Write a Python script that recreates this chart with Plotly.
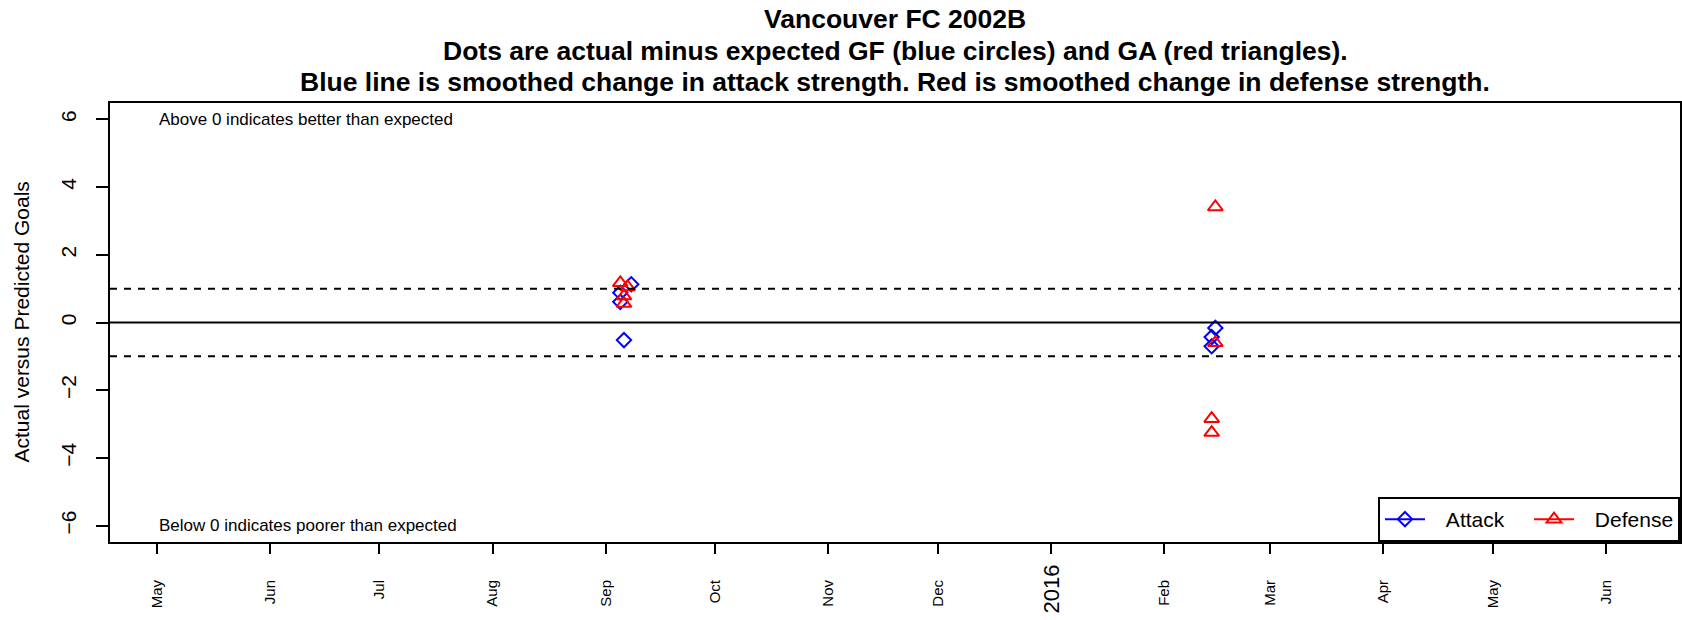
import plotly.graph_objects as go

# ---- data ----
attack_dates = ["2015-09-05", "2015-09-05", "2015-09-06", "2015-09-08",
                "2016-02-14", "2016-02-14", "2016-02-15"]
attack_vals = [0.61, 0.88, -0.52, 1.13, -0.43, -0.70, -0.16]

defense_dates = ["2015-09-05", "2015-09-06", "2015-09-06", "2015-09-07",
                 "2016-02-14", "2016-02-14", "2016-02-15", "2016-02-15"]
defense_vals = [1.17, 0.78, 0.56, 1.05, -2.84, -3.25, 3.41, -0.60]

tick_dates = ["2015-05-01", "2015-06-01", "2015-07-01", "2015-08-01", "2015-09-01",
              "2015-10-01", "2015-11-01", "2015-12-01", "2016-01-01", "2016-02-01",
              "2016-03-01", "2016-04-01", "2016-05-01", "2016-06-01"]
tick_labels = ["May", "Jun", "Jul", "Aug", "Sep", "Oct", "Nov", "Dec", "2016",
               "Feb", "Mar", "Apr", "May", "Jun"]
year_label = "2016"
y_ticks = [-6, -4, -2, 0, 2, 4, 6]

title_lines = ["Vancouver FC 2002B",
               "Dots are actual minus expected GF (blue circles) and GA (red triangles).",
               "Blue line is smoothed change in attack strength. Red is smoothed change in defense strength."]

FONT = "Liberation Sans, Arial, sans-serif"
BLUE = "#0000FF"
RED = "#FF0000"
GAP = "\u00a0\u00a0\u2009"

fig = go.Figure()

fig.add_trace(go.Scatter(x=attack_dates, y=attack_vals, mode="markers", showlegend=False,
                         marker=dict(symbol="diamond-open", size=11, color=BLUE,
                                     line=dict(width=2, color=BLUE))))
fig.add_trace(go.Scatter(x=defense_dates, y=defense_vals, mode="markers", showlegend=False,
                         marker=dict(symbol="triangle-up-open", size=13, color=RED,
                                     line=dict(width=2, color=RED))))
# legend entries
fig.add_trace(go.Scatter(x=[None], y=[None], mode="lines+markers", name=GAP + "Attack",
                         line=dict(color=BLUE, width=2),
                         marker=dict(symbol="diamond-open", size=11, color=BLUE,
                                     line=dict(width=2, color=BLUE))))
fig.add_trace(go.Scatter(x=[None], y=[None], mode="lines+markers", name=GAP + "Defense",
                         line=dict(color=RED, width=2),
                         marker=dict(symbol="triangle-up-open", size=13, color=RED,
                                     line=dict(width=2, color=RED))))

# the year label is drawn larger, as its own text below its tick
ticktext = ["" if t == year_label else t for t in tick_labels]
year_date = tick_dates[tick_labels.index(year_label)]

shapes = [
    dict(type="line", xref="paper", x0=0, x1=1, yref="y", y0=0, y1=0,
         line=dict(color="black", width=2)),
    dict(type="line", xref="paper", x0=0, x1=1, yref="y", y0=1, y1=1,
         line=dict(color="black", width=2, dash="7px,7px")),
    dict(type="line", xref="paper", x0=0, x1=1, yref="y", y0=-1, y1=-1,
         line=dict(color="black", width=2, dash="7px,7px")),
]

annotations = []
for line, shift in zip(title_lines, [84, 52, 21]):
    annotations.append(dict(text=f"<b>{line}</b>", xref="paper", yref="paper", x=0.5, y=1,
                            xanchor="center", yanchor="middle", yshift=shift, showarrow=False,
                            font=dict(family=FONT, size=26.5, color="black")))
annotations.append(dict(text="Actual versus Predicted Goals", xref="paper", yref="paper",
                        x=0, y=0.5, xanchor="center", yanchor="middle", xshift=-89,
                        textangle=-90, showarrow=False,
                        font=dict(family=FONT, size=21, color="black")))
annotations.append(dict(text="Above 0 indicates better than expected", xref="x", yref="y",
                        x=tick_dates[0], y=6, xanchor="left", yanchor="middle", showarrow=False,
                        font=dict(family=FONT, size=17, color="black")))
annotations.append(dict(text="Below 0 indicates poorer than expected", xref="x", yref="y",
                        x=tick_dates[0], y=-6, xanchor="left", yanchor="middle", showarrow=False,
                        font=dict(family=FONT, size=17, color="black")))
annotations.append(dict(text=year_label, xref="x", yref="paper", x=year_date, y=0,
                        xanchor="center", yanchor="top", yshift=-22, textangle=-90,
                        showarrow=False, borderpad=0,
                        font=dict(family=FONT, size=22, color="black")))

fig.update_layout(
    width=1682, height=620,
    margin=dict(l=110, r=2, t=103, b=78, autoexpand=False),
    paper_bgcolor="white", plot_bgcolor="white",
    font=dict(family=FONT, color="black"),
    shapes=shapes, annotations=annotations,
    legend=dict(orientation="h", x=1, xanchor="right", y=0, yanchor="bottom",
                bordercolor="black", borderwidth=2, bgcolor="white",
                font=dict(family=FONT, size=21, color="black"),
                entrywidth=94, entrywidthmode="pixels", itemwidth=40,
                tracegroupgap=0),
    xaxis=dict(type="date", range=["2015-04-18 05:00", "2016-06-21 07:00"],
               tickvals=tick_dates, ticktext=ticktext, tickangle=-90,
               ticks="outside", ticklen=10, tickwidth=2, tickcolor="black",
               tickfont=dict(family=FONT, size=15, color="black"),
               showgrid=False, zeroline=False, automargin=False,
               showline=True, linecolor="black", linewidth=2, mirror=True,
               ticklabelstandoff=20),
    yaxis=dict(range=[-6.48, 6.48], tickvals=y_ticks, tickangle=-90,
               ticks="outside", ticklen=12, tickwidth=2, tickcolor="black",
               tickfont=dict(family=FONT, size=21, color="black"),
               showgrid=False, zeroline=False, automargin=False,
               showline=True, linecolor="black", linewidth=2, mirror=True,
               ticklabelstandoff=12),
)

fig.write_html("out.html", config={"displayModeBar": False},
               post_script="document.body.style.margin='0px';document.body.style.overflow='hidden';")
